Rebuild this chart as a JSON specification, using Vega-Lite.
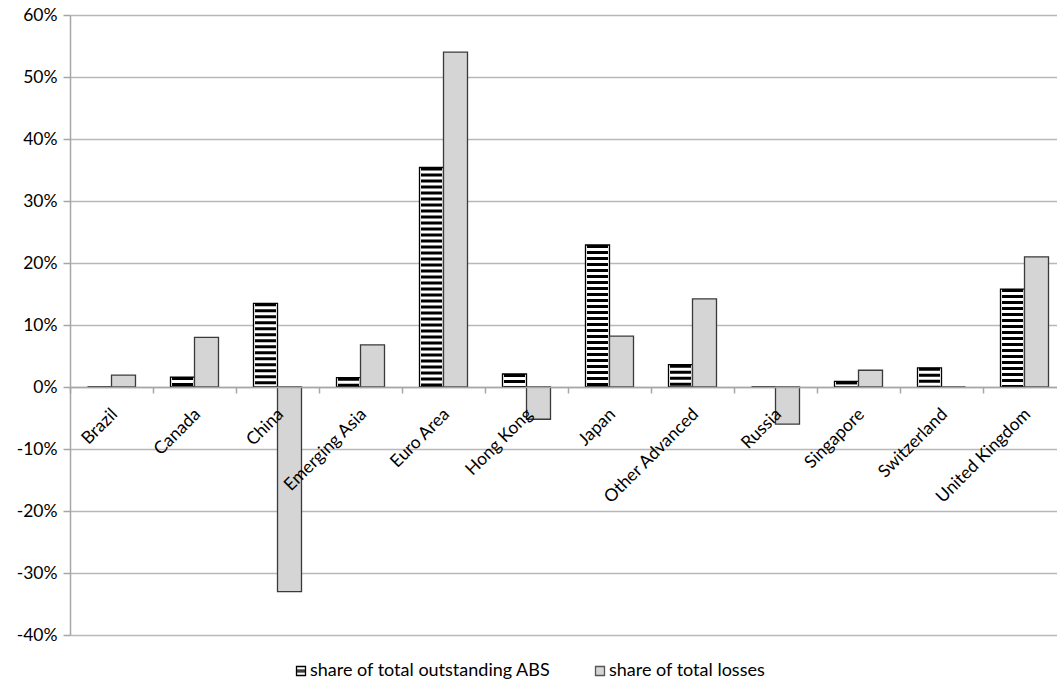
{
  "$schema": "https://vega.github.io/schema/vega-lite/v6.json",
  "width": 987,
  "height": 620,
  "autosize": {"type": "none"},
  "padding": {"left": 70, "top": 15, "right": 0, "bottom": 54},
  "background": "#ffffff",
  "config": {
    "view": {"stroke": null},
    "font": "Lato",
    "axis": {
      "labelFont": "Lato",
      "labelFontSize": 17.5,
      "labelColor": "#000000",
      "domainColor": "#a6a6a6",
      "domainWidth": 1.5,
      "tickColor": "#a6a6a6",
      "tickWidth": 1.5,
      "gridColor": "#b8b8b8",
      "gridWidth": 1.3,
      "title": null
    },
    "legend": {
      "labelFont": "Lato",
      "labelFontSize": 18,
      "labelColor": "#000000",
      "labelLimit": 0
    }
  },
  "data": {
    "values": [
      {"country": "Brazil", "series": "share of total outstanding ABS", "value": 0.0},
      {"country": "Brazil", "series": "share of total losses", "value": 0.019},
      {"country": "Canada", "series": "share of total outstanding ABS", "value": 0.016},
      {"country": "Canada", "series": "share of total losses", "value": 0.080},
      {"country": "China", "series": "share of total outstanding ABS", "value": 0.135},
      {"country": "China", "series": "share of total losses", "value": -0.330},
      {"country": "Emerging Asia", "series": "share of total outstanding ABS", "value": 0.015},
      {"country": "Emerging Asia", "series": "share of total losses", "value": 0.068},
      {"country": "Euro Area", "series": "share of total outstanding ABS", "value": 0.354},
      {"country": "Euro Area", "series": "share of total losses", "value": 0.540},
      {"country": "Hong Kong", "series": "share of total outstanding ABS", "value": 0.021},
      {"country": "Hong Kong", "series": "share of total losses", "value": -0.052},
      {"country": "Japan", "series": "share of total outstanding ABS", "value": 0.229},
      {"country": "Japan", "series": "share of total losses", "value": 0.082},
      {"country": "Other Advanced", "series": "share of total outstanding ABS", "value": 0.036},
      {"country": "Other Advanced", "series": "share of total losses", "value": 0.142},
      {"country": "Russia", "series": "share of total outstanding ABS", "value": 0.0},
      {"country": "Russia", "series": "share of total losses", "value": -0.060},
      {"country": "Singapore", "series": "share of total outstanding ABS", "value": 0.009},
      {"country": "Singapore", "series": "share of total losses", "value": 0.027},
      {"country": "Switzerland", "series": "share of total outstanding ABS", "value": 0.031},
      {"country": "Switzerland", "series": "share of total losses", "value": 0.0},
      {"country": "United Kingdom", "series": "share of total outstanding ABS", "value": 0.158},
      {"country": "United Kingdom", "series": "share of total losses", "value": 0.210}
    ]
  },
  "encoding": {
    "x": {
      "field": "country",
      "type": "nominal",
      "sort": null,
      "scale": {"range": [0, 996], "paddingInner": 0, "paddingOuter": 0},
      "axis": {
        "labelAngle": -45,
        "offset": -248,
        "bandPosition": 0,
        "labelOffset": -3,
        "tickSize": 6,
        "labelPadding": 12,
        "labelOverlap": false,
        "labelBound": false,
        "grid": false,
        "zindex": 1
      }
    },
    "xOffset": {
      "field": "series",
      "type": "nominal",
      "sort": ["share of total outstanding ABS", "share of total losses"],
      "scale": {"paddingInner": 0, "paddingOuter": 0.729}
    },
    "y": {
      "field": "value",
      "type": "quantitative",
      "scale": {"domain": [-0.4, 0.6], "nice": false},
      "axis": {
        "values": [-0.4, -0.3, -0.2, -0.1, 0, 0.1, 0.2, 0.3, 0.4, 0.5, 0.6],
        "labelExpr": "(datum.value < 0 ? '-' : '') + format(abs(datum.value), '.0%')",
        "grid": true,
        "tickSize": 7,
        "labelPadding": 6
      }
    }
  },
  "layer": [
    {
      "mark": {"type": "bar", "strokeWidth": 1.3},
      "encoding": {
        "fill": {
          "field": "series",
          "type": "nominal",
          "sort": ["share of total outstanding ABS", "share of total losses"],
          "scale": {"range": ["#ffffff", "#d5d5d5"]},
          "legend": {
            "orient": "none",
            "legendX": 222,
            "legendY": 647,
            "direction": "horizontal",
            "title": null,
            "symbolType": "square",
            "symbolSize": 81,
            "columnPadding": 40,
            "labelOffset": 0,
            "encode": {
              "symbols": {
                "update": {
                  "shape": [
                    {"test": "datum.value === 'share of total outstanding ABS'", "value": "M-1,-1H1V1H-1ZM-1,-0.18H1V0.18H-1Z"},
                    {"value": "square"}
                  ],
                  "stroke": [
                    {"test": "datum.value === 'share of total outstanding ABS'", "value": "#000000"},
                    {"value": "#555555"}
                  ],
                  "strokeWidth": {"value": 1.3}
                }
              }
            }
          }
        },
        "stroke": {
          "field": "series",
          "type": "nominal",
          "sort": ["share of total outstanding ABS", "share of total losses"],
          "scale": {"range": ["#000000", "#3a3a3a"]},
          "legend": null
        }
      }
    },
    {
      "transform": [{"filter": "datum.series === 'share of total outstanding ABS'"}],
      "mark": {"type": "rule", "strokeWidth": 21, "strokeDash": [3, 3], "color": "#000000"},
      "encoding": {
        "y2": {"datum": 0}
      }
    }
  ]
}
